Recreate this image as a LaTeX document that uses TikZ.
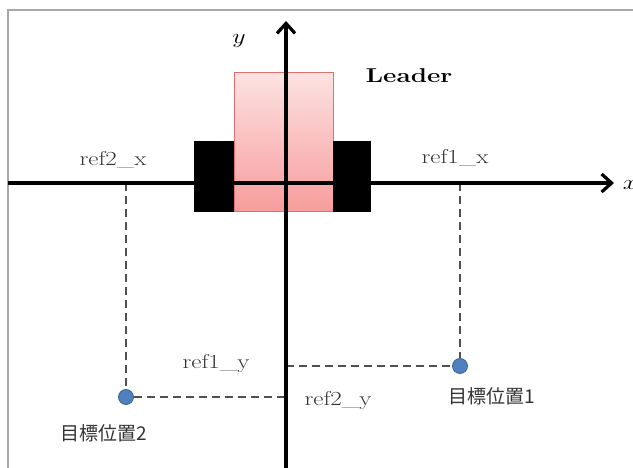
\documentclass[tikz,border=0pt]{standalone}
\usepackage{fontspec}
\newfontfamily\cjk{Noto Sans CJK JP}
\usetikzlibrary{arrows.meta}
\definecolor{framegray}{HTML}{A8A8A8}
\definecolor{dotblue}{HTML}{4F81BD}
\definecolor{dotedge}{HTML}{3A6496}
\definecolor{pinktop}{HTML}{FDE2E2}
\definecolor{pinkbot}{HTML}{F79C9C}
\definecolor{pinkedge}{HTML}{E07070}
\definecolor{dashgray}{HTML}{505050}
\newcommand{\widetxt}[2][1.25]{\scalebox{#1}[1]{#2}}
\begin{document}
\begin{tikzpicture}[x=1pt,y=-1pt,
  axis/.style={line width=3.2pt,-{Straight Barb[length=10pt,width=18pt,line width=3.2pt]}},
  guide/.style={line width=2pt,dashgray,dash pattern=on 8pt off 5pt},
  target/.style={circle,fill=dotblue,draw=dotedge,line width=0.8pt,minimum size=15pt,inner sep=0pt},
  lbl/.style={font=\fontsize{20}{22}\selectfont,inner sep=0pt,text=black!80},
  jlbl/.style={font=\cjk\fontsize{19}{21}\selectfont,inner sep=0pt,text=black!80},
  wheel/.style={fill=black}]
\useasboundingbox (0,0) rectangle (633,468);
\fill[white] (0,0) rectangle (633,468);
% frame
\draw[framegray,line width=2pt] (8,468) -- (8,10) -- (633,10);
% body
\shade[top color=pinktop,bottom color=pinkbot] (234,73) rectangle (333,212);
\draw[pinkedge,line width=1pt] (234,73) rectangle (333,212);
\fill[wheel] (194,141) rectangle (234,212);
\fill[wheel] (333,141) rectangle (371,212);
% coordinates
\coordinate (xs) at (8,183);
\coordinate (xe) at (614,183);
\coordinate (ys) at (286,468);
\coordinate (ye) at (286,21);
\coordinate (r2top) at (126,183);
\coordinate (r1top) at (460,183);
\coordinate (ax1) at (286,366);
\coordinate (ax2) at (286,397);
\node[target] (t1) at (460,366) {};
\node[target] (t2) at (126,397) {};
% guides
\draw[guide] (r2top) -- (t2.north);
\draw[guide] (r1top) -- (t1.north);
\draw[guide] (ax1) -- (t1.west);
\draw[guide] (t2.east) -- (ax2);
% axes
\draw[axis] (xs) -- (xe);
\draw[axis] (ys) -- (ye);
% labels
\node[lbl,text=black] (xl) at (630,185) {\widetxt{$x$}};
\node[lbl,text=black] (yl) at (239,41) {\widetxt{$y$}};
\node[lbl,font=\bfseries\fontsize{20}{22}\selectfont,text=black] (lead) at (409,76) {\widetxt[1.3]{Leader}};
\node[lbl] (r2x) at (113,160) {\widetxt{ref2\_x}};
\node[lbl] (r1x) at (455,158) {\widetxt{ref1\_x}};
\node[lbl] (r1y) at (216,364) {\widetxt{ref1\_y}};
\node[lbl] (r2y) at (338,401) {\widetxt{ref2\_y}};
\node[jlbl] (g1) at (492,396) {目標位置1};
\node[jlbl] (g2) at (104,433) {目標位置2};
\end{tikzpicture}
\end{document}
